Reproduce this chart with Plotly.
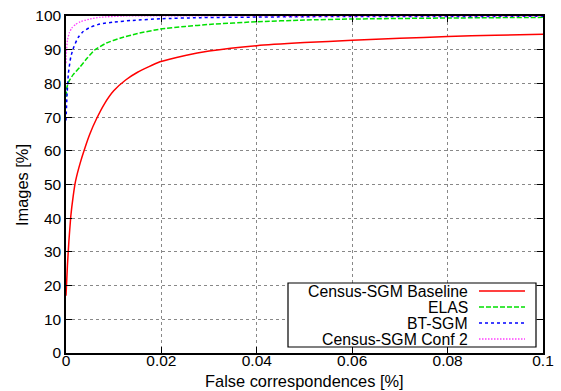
import plotly.graph_objects as go

# ROC-style curves: share of images vs. false correspondences
baseline_x = [0, 0.0003, 0.0006, 0.001, 0.0015, 0.002, 0.003, 0.004, 0.005, 0.0064, 0.008,
              0.01, 0.0125, 0.015, 0.0197, 0.025, 0.03, 0.04, 0.05, 0.06, 0.07, 0.08, 0.09, 0.1]
baseline_y = [17, 26, 33, 40.5, 46.5, 51, 56.5, 61, 65, 69.5, 73.8,
              77.8, 81, 83.3, 86.4, 88.3, 89.6, 91.2, 92.1, 92.8, 93.4, 93.9, 94.3, 94.6]

elas_x = [0, 0.0002, 0.0005, 0.0015, 0.0029, 0.0045, 0.006, 0.0085, 0.0113, 0.015,
          0.0197, 0.025, 0.03, 0.04, 0.05, 0.06, 0.08, 0.1]
elas_y = [76, 78.8, 80.3, 82.6, 84.8, 87.6, 89.9, 92, 93.4, 94.8,
          96.1, 96.9, 97.5, 98.3, 98.8, 99.1, 99.4, 99.6]

btsgm_x = [0, 0.0002, 0.0005, 0.001, 0.0015, 0.0025, 0.0036, 0.005, 0.0071, 0.01, 0.014,
           0.02, 0.028, 0.05, 0.1]
btsgm_y = [69, 76, 83, 87.8, 90.3, 93.5, 95.4, 96.6, 97.6, 98.2, 98.7,
           99.2, 99.5, 99.8, 99.9]

conf2_x = [0, 0.0001, 0.0003, 0.0007, 0.0012, 0.002, 0.003, 0.005, 0.0071, 0.012, 0.05, 0.1]
conf2_y = [86, 89.5, 92.8, 95, 96.4, 97.5, 98.3, 99.1, 99.6, 100, 100, 100]

series_names = ["Census-SGM Baseline", "ELAS", "BT-SGM", "Census-SGM Conf 2"]
series_x = [baseline_x, elas_x, btsgm_x, conf2_x]
series_y = [baseline_y, elas_y, btsgm_y, conf2_y]
colors = ["#ff0000", "#00e000", "#0000ff", "#ff40ff"]
dashes = ["solid", "5px,2px", "3px,3px", "1.5px,1.5px"]
widths = [1.5, 1.5, 1.5, 1.3]

x_ticks = [0, 0.02, 0.04, 0.06, 0.08, 0.1]
x_ticktext = ["0", "0.02", "0.04", "0.06", "0.08", "0.1"]
y_ticks = list(range(0, 101, 10))

x_title = "False correspondences [%]"
y_title = "Images [%]"

fig = go.Figure()
for name, xs, ys, c, d, w in zip(series_names, series_x, series_y, colors, dashes, widths):
    fig.add_trace(go.Scatter(x=xs, y=ys, mode="lines", name=name,
                             line=dict(color=c, dash=d, width=w, shape="spline", smoothing=0.5),
                             showlegend=False))

family = "Liberation Sans, Arial, sans-serif"
tick_font = dict(family=family, size=15.5, color="black")
title_font = dict(family=family, size=16.4, color="black")
legend_font = dict(family=family, size=15.8, color="black")

axis_common = dict(showgrid=True, gridcolor="#888888", griddash="dot", gridwidth=1,
                   zeroline=False, showline=True, linecolor="black", linewidth=1.5,
                   mirror="ticks", ticks="inside", ticklen=6, tickcolor="black",
                   tickfont=tick_font, automargin=False)

fig.update_layout(
    width=561, height=391,
    margin=dict(l=66, r=18, t=16, b=38),
    plot_bgcolor="white", paper_bgcolor="white",
    font=dict(family=family, size=14, color="black"),
    xaxis=dict(range=[0, 0.1], tickvals=x_ticks, ticktext=x_ticktext,
               ticklabelstandoff=-7, **axis_common),
    yaxis=dict(range=[0, 100], tickvals=y_ticks, **axis_common),
)

plot_l, plot_r, plot_t, plot_b = 66, 543, 16, 353

def px_to_paper(px, py):
    return ((px - plot_l) / (plot_r - plot_l), (plot_b - py) / (plot_b - plot_t))

# Axis titles
_, ty = px_to_paper(304, 381)
fig.add_annotation(xref="paper", yref="paper", x=0.5, y=ty, text=x_title, showarrow=False,
                   xanchor="center", yanchor="middle", font=title_font)
tx, ty = px_to_paper(22, 185)
fig.add_annotation(xref="paper", yref="paper", x=tx, y=ty, text=y_title, showarrow=False,
                   textangle=-90, xanchor="center", yanchor="middle", font=title_font)

# Legend box in the lower right: label right-aligned, line sample on the right
lx0, lx1 = 288, 536
ly0, ly1 = 283, 347

bx0, by0 = px_to_paper(lx0, ly1)
bx1, by1 = px_to_paper(lx1, ly0)
fig.add_shape(type="rect", xref="paper", yref="paper", x0=bx0, y0=by0, x1=bx1, y1=by1,
              line=dict(color="black", width=1.2), fillcolor="white", layer="above")

row_h = (ly1 - ly0) / 4
for i, (name, c, d, w) in enumerate(zip(series_names, colors, dashes, widths)):
    cy = ly0 + row_h * (i + 0.5)
    tx, ty = px_to_paper(470, cy)
    fig.add_annotation(xref="paper", yref="paper", x=tx, y=ty, text=name,
                       showarrow=False, xanchor="right", yanchor="middle", font=legend_font)
    sx0, sy = px_to_paper(479, cy)
    sx1, _ = px_to_paper(525, cy)
    fig.add_shape(type="line", xref="paper", yref="paper", x0=sx0, x1=sx1, y0=sy, y1=sy,
                  line=dict(color=c, dash=d, width=w), layer="above")

fig.write_html("out.html")
